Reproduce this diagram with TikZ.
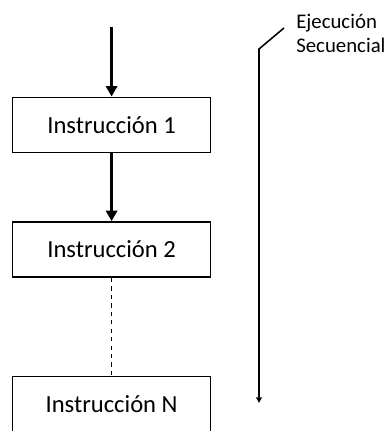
\documentclass[tikz,border=0pt]{standalone}
\usepackage{fontspec}
\setmainfont{Carlito}
\usetikzlibrary{arrows.meta,positioning}

\begin{document}
\begin{tikzpicture}[instr/.style={draw, line width=1.2pt, minimum width=4.95cm, minimum height=1.38cm, inner sep=0pt, font=\fontsize{17.5}{20}\selectfont},
	flow/.style={-{Triangle[length=7.5pt,width=8pt]}, line width=2.3pt}]
			\useasboundingbox (0,0) rectangle (9.675,-10.775);
			\node[instr] (i1) at (2.79,-3.125) {Instrucción 1};
			\node[instr] (i2) at (2.79,-6.24) {Instrucción 2};
			\node[instr] (iN) at (2.79,-10.1) {Instrucción N};
			\coordinate (s) at (2.79,-0.675);
			\draw[flow] (s) to (i1);
			\draw[flow] (i1) to (i2);
			\draw[dashed, line width=0.8pt] (i2) to (iN);
			% flecha de ejecucion
			\coordinate (a) at (7.1,-0.7);
			\coordinate (b) at (6.475,-1.225);
			\coordinate (c) at (6.475,-10.075);
			\draw[-{Triangle[length=4pt,width=4pt]}, line width=1.1pt] (a) -- (b) -- (c);
			\node[anchor=west, align=left, inner sep=0pt, font=\fontsize{14.8}{17}\selectfont] (lbl) at (7.4,-0.83) {Ejecución\\Secuencial};
		\end{tikzpicture}
\end{document}
